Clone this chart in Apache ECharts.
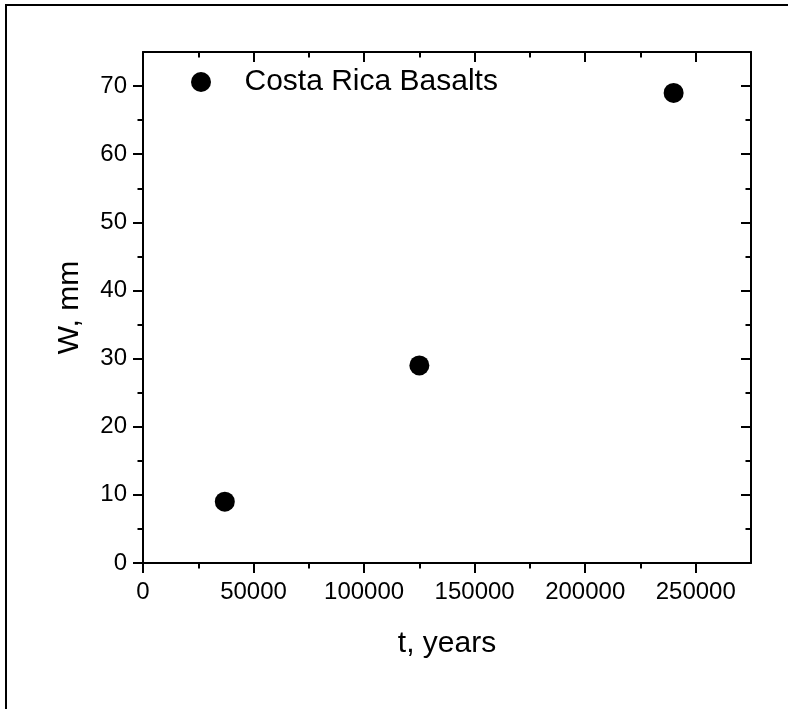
<!DOCTYPE html>
<html>
<head>
<meta charset="utf-8">
<script src="https://cdn.jsdelivr.net/npm/echarts@6/dist/echarts.min.js"></script>
<style>
html,body{margin:0;padding:0;background:#fff;}
#wrap{position:relative;width:788px;height:709px;}
#chart{position:absolute;left:0;top:0;width:788px;height:709px;}
#frame{position:absolute;left:5px;top:4px;right:0;bottom:0;border-left:2px solid #000;border-top:2px solid #000;pointer-events:none;}
</style>
</head>
<body>
<div id="wrap"><div id="chart"></div><div id="frame"></div></div>
<script>
var seriesName = 'Costa Rica Basalts';
var tYears = [37000, 125000, 240000];
var wMm = [9, 29, 69];
var xTicks = [0, 50000, 100000, 150000, 200000, 250000];
var yTicks = [0, 10, 20, 30, 40, 50, 60, 70];
var xTitle = 't, years';
var yTitle = 'W, mm';

var FONT = 'Liberation Sans, Arial, sans-serif';
var lineStyle = {color: '#000', width: 2};
var data = tYears.map(function (t, i) { return [t, wMm[i]]; });

function axisCommon(min, max, interval, ticks) {
  return {
    type: 'value', min: min, max: max, interval: interval,
    splitLine: {show: false},
    axisLine: {show: true, onZero: false, lineStyle: lineStyle},
    axisTick: {show: true, length: 10, lineStyle: lineStyle, customValues: ticks},
    minorTick: {show: true, splitNumber: 2, length: 5.5, lineStyle: {color: '#000', width: 2}}
  };
}

var xb = axisCommon(0, 275000, 50000, xTicks);
xb.position = 'bottom';
xb.axisLabel = {show: true, customValues: xTicks, fontFamily: FONT, fontSize: 24, color: '#000', margin: 17,
  formatter: function (v) { return String(v); }};
xb.name = xTitle; xb.nameLocation = 'middle'; xb.nameGap = 66;
xb.nameTextStyle = {fontFamily: FONT, fontSize: 30, color: '#000'};

var xt = axisCommon(0, 275000, 50000, xTicks);
xt.position = 'top';
xt.axisTick.inside = true; xt.minorTick.inside = true;
xt.axisLabel = {show: false};

var yl = axisCommon(0, 75, 10, yTicks);
yl.position = 'left';
yl.axisLabel = {show: true, customValues: yTicks, fontFamily: FONT, fontSize: 24, color: '#000', margin: 16};
yl.name = yTitle; yl.nameLocation = 'middle'; yl.nameGap = 58;
yl.nameTextStyle = {fontFamily: FONT, fontSize: 30, color: '#000'};

var yr = axisCommon(0, 75, 10, yTicks);
yr.position = 'right';
yr.axisTick.inside = true; yr.minorTick.inside = true;
yr.axisLabel = {show: false};

var chart = echarts.init(document.getElementById('chart'), null, {renderer: 'canvas'});
chart.setOption({
  animation: false,
  backgroundColor: 'transparent',
  grid: {left: 143, top: 52, right: 37, bottom: 146, containLabel: false},
  legend: {
    show: true, left: 186, top: 62, orient: 'vertical',
    icon: 'circle', itemWidth: 77, itemHeight: 20, symbolKeepAspect: true,
    textStyle: {fontFamily: FONT, fontSize: 30, color: '#000'},
    data: [seriesName]
  },
  xAxis: [xb, xt],
  yAxis: [yl, yr],
  series: [{
    name: seriesName, type: 'scatter', xAxisIndex: 0, yAxisIndex: 0,
    symbol: 'circle', symbolSize: 20,
    itemStyle: {color: '#000', opacity: 1},
    data: data
  }]
});
</script>
</body>
</html>
